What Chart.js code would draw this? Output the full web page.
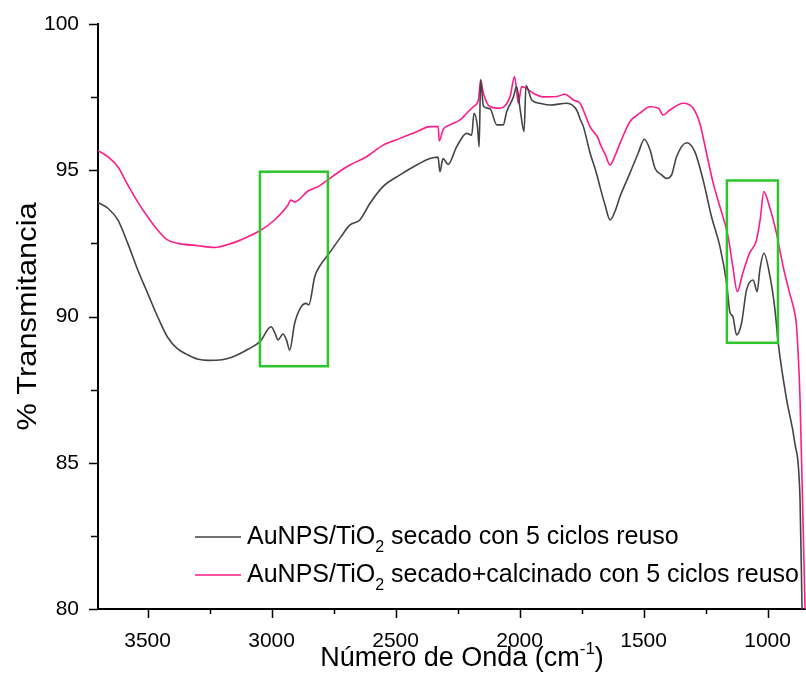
<!DOCTYPE html>
<html lang="es">
<head>
    <meta charset="UTF-8">
    <title>Espectro FTIR AuNPS/TiO2</title>
    <script src="https://cdn.jsdelivr.net/npm/chart.js"></script>
    <style>
        body {
            margin: 0;
            padding: 0;
            background-color: #fff;
        }

        .chart-container {
            width: 806px;
            height: 697px;
        }
    </style>
</head>
<body>
    <div class="chart-container">
        <canvas id="ftirChart" width="806" height="697"></canvas>
    </div>

    <script>
        // Número de onda (cm-1) y % transmitancia
        const wnSecado = [3700, 3660, 3620, 3580, 3540, 3500, 3460, 3420, 3380, 3340, 3300, 3256, 3200, 3148, 3095, 3047,
            3002, 2986, 2974, 2954, 2940, 2927, 2907, 2881, 2861, 2850, 2826, 2800, 2773, 2720, 2684, 2644, 2603, 2551,
            2482, 2415, 2361, 2329, 2321, 2309, 2288, 2254, 2213, 2193, 2184, 2170, 2163, 2157, 2146, 2119, 2092, 2066,
            2052, 2025, 2012, 1998, 1982, 1974, 1951, 1918, 1877, 1810, 1770, 1756, 1743, 1716, 1690, 1676, 1655, 1635,
            1615, 1595, 1555, 1521, 1497, 1474, 1454, 1427, 1407, 1387, 1367, 1326, 1293, 1260, 1226, 1192, 1165, 1152,
            1140, 1125, 1105, 1085, 1058, 1042, 1031, 1015, 990, 970, 957, 923, 890, 869, 861];
        const tSecado = [93.9, 93.7, 93.3, 92.5, 91.6, 90.8, 90.0, 89.3, 88.9, 88.7, 88.55, 88.5, 88.52, 88.65, 88.88, 89.14,
            89.65, 89.43, 89.2, 89.4, 89.2, 88.85, 89.77, 90.33, 90.45, 90.4, 91.36, 91.8, 92.1, 92.73, 93.13, 93.3, 93.87, 94.44,
            94.84, 95.18, 95.4, 95.45, 94.95, 95.4, 95.2, 95.8, 96.26, 96.2, 96.95, 96.5, 95.8, 98.09, 97.2, 97.1, 96.55, 96.55,
            97.0, 97.5, 97.86, 97.1, 96.32, 97.9, 97.4, 97.29, 97.23, 97.29, 97.06, 96.75, 96.5, 95.6, 94.9, 94.44, 93.8, 93.3,
            93.6, 94.1, 94.9, 95.6, 96.06, 95.7, 95.07, 94.84, 94.72, 94.84, 95.46, 95.94, 95.63, 94.67, 93.41, 92.39, 91.13, 90.15,
            90.0, 89.37, 89.77, 90.9, 91.25, 90.85, 91.6, 92.16, 91.36, 90.22, 89.09, 87.15, 85.67, 83.73, 80.0];

        const wnCalcinado = [3700, 3660, 3620, 3580, 3540, 3500, 3460, 3420, 3377, 3297, 3230, 3162, 3095, 3047, 2988, 2934,
            2923, 2907, 2853, 2810, 2773, 2719, 2684, 2617, 2550, 2482, 2415, 2361, 2328, 2324, 2308, 2281, 2240, 2213, 2187,
            2166, 2157, 2146, 2119, 2079, 2039, 2020, 2005, 1992, 1972, 1945, 1904, 1850, 1817, 1783, 1756, 1743, 1716, 1683,
            1676, 1655, 1635, 1615, 1595, 1555, 1515, 1474, 1440, 1421, 1394, 1340, 1300, 1273, 1246, 1219, 1192, 1159, 1140,
            1122, 1100, 1073, 1045, 1030, 1015, 992, 964, 937, 911, 890, 883, 869, 856, 849];
        const tCalcinado = [95.67, 95.46, 95.12, 94.5, 93.92, 93.41, 92.96, 92.62, 92.5, 92.42, 92.36, 92.5, 92.73, 92.93, 93.3, 93.81,
            93.98, 93.92, 94.29, 94.45, 94.67, 95.0, 95.18, 95.46, 95.86, 96.09, 96.32, 96.49, 96.49, 96.0, 96.4, 96.55, 96.72, 96.95, 97.17,
            97.4, 98.09, 97.63, 97.17, 97.12, 97.5, 98.2, 97.29, 97.86, 97.8, 97.63, 97.51, 97.52, 97.6, 97.4, 97.29, 97.06, 96.49, 96.09,
            95.92, 95.55, 95.18, 95.5, 95.92, 96.66, 96.95, 97.17, 97.12, 96.89, 97.06, 97.29, 97.12, 96.6, 95.58, 94.55, 93.75, 92.73, 91.7,
            90.85, 91.48, 92.16, 92.6, 93.3, 94.27, 93.75, 92.84, 91.7, 90.8, 90.1, 89.65, 87.15, 82.6, 80.0];

        // Ticks de los ejes
        const xTickValues = [3500, 3000, 2500, 2000, 1500, 1000];
        const yTickValues = [80, 85, 90, 95, 100];

        // Etiquetas de la leyenda: texto, subíndice, resto
        const legendSecado = ['AuNPS/TiO', '2', ' secado con 5 ciclos reuso'];
        const legendCalcinado = ['AuNPS/TiO', '2', ' secado+calcinado con 5 ciclos reuso'];

        // Regiones resaltadas (rectángulos verdes): número de onda y transmitancia
        const boxWnStart = [3047, 1164];
        const boxWnEnd = [2773, 958];
        const boxTLow = [88.3, 89.1];
        const boxTHigh = [94.95, 94.65];

        const FONT = '"Liberation Sans", Arial, sans-serif';
        const GRAY = '#444444';
        const PINK = '#fb1d8a';
        const GREEN = '#2cc52c';

        Chart.defaults.font.family = FONT;
        Chart.defaults.color = '#000';

        function toPoints(xs, ys) {
            return xs.map((x, i) => ({ x: x, y: ys[i] }));
        }

        // Marcas de los ejes (mayores y menores), títulos, rectángulos y leyenda
        const decorations = {
            id: 'decorations',
            afterDatasetsDraw(chart) {
                const ctx = chart.ctx;
                const xs = chart.scales.x;
                const ys = chart.scales.y;

                ctx.save();
                ctx.strokeStyle = GREEN;
                ctx.lineWidth = 2.5;
                for (let i = 0; i < boxWnStart.length; i++) {
                    const x0 = xs.getPixelForValue(boxWnStart[i]);
                    const x1 = xs.getPixelForValue(boxWnEnd[i]);
                    const y0 = ys.getPixelForValue(boxTHigh[i]);
                    const y1 = ys.getPixelForValue(boxTLow[i]);
                    ctx.strokeRect(x0, y0, x1 - x0, y1 - y0);
                }
                ctx.restore();
            },
            afterDraw(chart) {
                const ctx = chart.ctx;
                const xs = chart.scales.x;
                const ys = chart.scales.y;
                const area = chart.chartArea;

                ctx.save();
                ctx.strokeStyle = '#000';
                ctx.lineWidth = 1.5;
                // ticks x: mayores en las etiquetas, menores a la mitad
                const xStep = xTickValues[0] - xTickValues[1];
                for (let v = xTickValues[xTickValues.length - 1] - xStep / 2; v <= xs.max; v += xStep / 2) {
                    if (v < xs.min) continue;
                    const px = Math.round(xs.getPixelForValue(v)) + 0.5;
                    const len = xTickValues.includes(v) ? 9 : 5;
                    ctx.beginPath();
                    ctx.moveTo(px, area.bottom);
                    ctx.lineTo(px, area.bottom + len);
                    ctx.stroke();
                }
                // ticks y
                const yStep = yTickValues[1] - yTickValues[0];
                for (let v = ys.min; v <= ys.max; v += yStep / 2) {
                    const py = Math.round(ys.getPixelForValue(v)) + 0.5;
                    const len = yTickValues.includes(v) ? 9 : 7;
                    ctx.beginPath();
                    ctx.moveTo(area.left, py);
                    ctx.lineTo(area.left - len, py);
                    ctx.stroke();
                }

                // título eje y
                ctx.fillStyle = '#000';
                ctx.font = '28px ' + FONT;
                ctx.textAlign = 'center';
                ctx.textBaseline = 'middle';
                ctx.translate(28, (area.top + area.bottom) / 2);
                ctx.rotate(-Math.PI / 2);
                ctx.scale(1.1, 1);
                ctx.fillText('% Transmitancia', 0, 0);
                ctx.restore();

                // título eje x con superíndice
                ctx.save();
                ctx.fillStyle = '#000';
                ctx.textBaseline = 'alphabetic';
                ctx.textAlign = 'left';
                const main = 'Número de Onda (cm';
                const sup = '-1';
                const end = ')';
                ctx.font = '27px ' + FONT;
                const wMain = ctx.measureText(main).width;
                const wEnd = ctx.measureText(end).width;
                ctx.font = '17px ' + FONT;
                const wSup = ctx.measureText(sup).width;
                let tx = 462 - (wMain + wSup + wEnd) / 2;
                const ty = 666;
                ctx.font = '27px ' + FONT;
                ctx.fillText(main, tx, ty);
                tx += wMain;
                ctx.font = '17px ' + FONT;
                ctx.fillText(sup, tx, ty - 12);
                tx += wSup;
                ctx.font = '27px ' + FONT;
                ctx.fillText(end, tx, ty);
                ctx.restore();

                // leyenda
                const entries = [
                    { parts: legendSecado, color: GRAY, y: 537 },
                    { parts: legendCalcinado, color: PINK, y: 575 }
                ];
                ctx.save();
                entries.forEach(e => {
                    ctx.strokeStyle = e.color;
                    ctx.lineWidth = 1.5;
                    ctx.beginPath();
                    ctx.moveTo(195, e.y);
                    ctx.lineTo(241, e.y);
                    ctx.stroke();

                    ctx.fillStyle = '#000';
                    ctx.textAlign = 'left';
                    ctx.textBaseline = 'middle';
                    let lx = 247;
                    ctx.font = '25px ' + FONT;
                    ctx.fillText(e.parts[0], lx, e.y);
                    lx += ctx.measureText(e.parts[0]).width;
                    ctx.font = '16px ' + FONT;
                    ctx.fillText(e.parts[1], lx, e.y + 11);
                    lx += ctx.measureText(e.parts[1]).width;
                    ctx.font = '25px ' + FONT;
                    ctx.fillText(e.parts[2], lx, e.y);
                });
                ctx.restore();
            }
        };

        const ctx = document.getElementById('ftirChart').getContext('2d');
        const chart = new Chart(ctx, {
            type: 'line',
            data: {
                datasets: [{
                    label: 'AuNPS/TiO2 secado con 5 ciclos reuso',
                    data: toPoints(wnSecado, tSecado),
                    borderColor: GRAY,
                    borderWidth: 1.6,
                    pointRadius: 0,
                    cubicInterpolationMode: 'monotone'
                }, {
                    label: 'AuNPS/TiO2 secado+calcinado con 5 ciclos reuso',
                    data: toPoints(wnCalcinado, tCalcinado),
                    borderColor: PINK,
                    borderWidth: 1.6,
                    pointRadius: 0,
                    cubicInterpolationMode: 'monotone'
                }]
            },
            options: {
                responsive: false,
                animation: false,
                devicePixelRatio: 1,
                layout: {
                    padding: { top: 24, right: 0, left: 0, bottom: 0 }
                },
                plugins: {
                    legend: { display: false },
                    tooltip: { enabled: false }
                },
                scales: {
                    x: {
                        type: 'linear',
                        reverse: true,
                        min: 845,
                        max: 3700,
                        grid: { display: false, drawTicks: false },
                        border: { display: true, color: '#000', width: 2 },
                        ticks: {
                            padding: 20,
                            maxRotation: 0,
                            autoSkip: false,
                            font: { size: 21 },
                            callback: v => v
                        },
                        afterBuildTicks: s => { s.ticks = xTickValues.map(v => ({ value: v })); },
                        afterFit: s => {
                            s.height = 88;
                            s.paddingLeft = 0;
                            s.paddingRight = 0;
                        }
                    },
                    y: {
                        min: 80,
                        max: 100,
                        grid: { display: false, drawTicks: false },
                        border: { display: true, color: '#000', width: 2 },
                        ticks: {
                            padding: 19,
                            autoSkip: false,
                            font: { size: 21 },
                            callback: v => v
                        },
                        afterBuildTicks: s => { s.ticks = yTickValues.map(v => ({ value: v })); },
                        afterFit: s => {
                            s.width = 98;
                            s.paddingTop = 0;
                            s.paddingBottom = 0;
                        }
                    }
                }
            },
            plugins: [decorations]
        });
    </script>
</body>
</html>
